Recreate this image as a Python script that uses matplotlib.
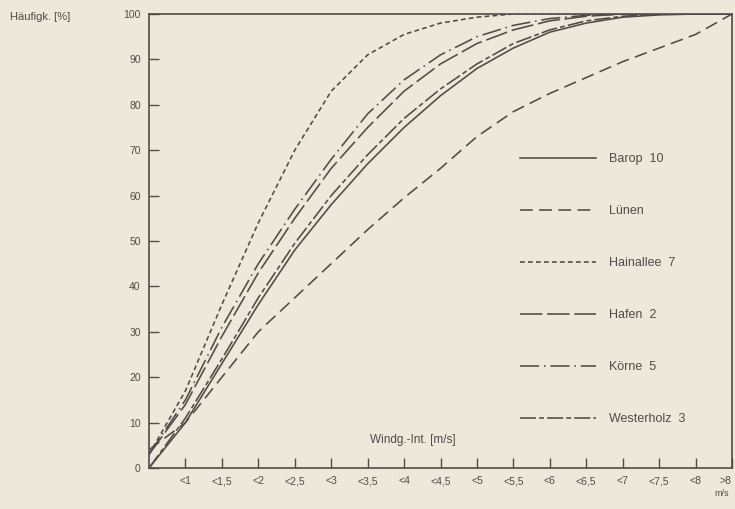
import matplotlib
matplotlib.use("Agg")
import matplotlib.pyplot as plt

plt.rcParams["font.family"] = ["Liberation Sans", "DejaVu Sans"]

# wind speed classes (category positions 1..16, position 0 = origin)
classes = ["<1", "<1,5", "<2", "<2,5", "<3", "<3,5", "<4", "<4,5", "<5",
           "<5,5", "<6", "<6,5", "<7", "<7,5", "<8", ">8"]

# cumulative frequency [%] per station (index 0 = origin)
barop = [0, 10, 23, 36, 48, 58, 67, 75, 82, 88, 92.5, 96, 98, 99.3, 99.8, 100, 100]
luenen = [4, 10, 20, 30, 37.5, 45, 52.5, 59.5, 66, 73, 78.5, 82.5, 86, 89.5, 92.5, 95.5, 100]
hainallee = [3, 17, 36, 54, 70, 83, 91, 95.5, 98, 99.3, 100, 100, 100, 100, 100, 100, 100]
hafen = [3, 14, 29, 43, 55, 66, 75, 83, 89, 93.5, 96.5, 98.5, 99.5, 100, 100, 100, 100]
koerne = [3, 15, 31, 45, 57, 68, 78, 85.5, 91, 95, 97.5, 99, 99.7, 100, 100, 100, 100]
westerholz = [0, 11, 24, 37.5, 49.5, 60, 69, 77, 83.5, 89, 93.5, 96.5, 98.5, 99.5, 100, 100, 100]

paper = "#eee8da"
ink = "#4f4b47"

fig = plt.figure(figsize=(7.35, 5.09), dpi=100, facecolor=paper)
ax = fig.add_axes([149 / 735, 1 - 468 / 509, 583 / 735, 454 / 509])
ax.set_facecolor(paper)

x = list(range(len(barop)))
lw = 1.15
ax.plot(x, barop, color=ink, lw=lw, ls="-", label="Barop  10")
ax.plot(x, luenen, color=ink, lw=lw, ls=(0, (8, 4)), label="Lünen")
ax.plot(x, hainallee, color=ink, lw=lw, ls=(0, (3, 2)), label="Hainallee  7")
ax.plot(x, hafen, color=ink, lw=lw, ls=(0, (14, 3)), label="Hafen  2")
ax.plot(x, koerne, color=ink, lw=lw, ls=(0, (12, 3, 1, 3)), label="Körne  5")
ax.plot(x, westerholz, color=ink, lw=lw, ls=(0, (10, 2, 3, 2)), label="Westerholz  3")

ax.set_xlim(0, 16)
ax.set_ylim(0, 100)
ax.set_xticks(range(1, 17))
ax.set_xticklabels(classes, fontsize=7.5, color=ink)
ax.get_xticklabels()[-1].set_horizontalalignment("right")
ax.set_yticks(range(0, 101, 10))
ax.set_yticklabels([str(v) for v in range(0, 101, 10)], fontsize=7.5, color=ink)
ax.tick_params(direction="in", length=7, width=1, color=ink, pad=6)
for s in ax.spines.values():
    s.set_color(ink)
    s.set_linewidth(1.2)

leg = ax.legend(loc="center left", bbox_to_anchor=(0.636, 0.394), frameon=False,
                fontsize=9, labelspacing=3.2, handlelength=6.1, handletextpad=1.0,
                borderaxespad=0, borderpad=0)
for t in leg.get_texts():
    t.set_color(ink)

fig.text(10 / 735, 1 - 17 / 509, "Häufigk. [%]", fontsize=8, color=ink, va="center")
fig.text(370 / 735, 1 - 440 / 509, "Windg.-Int. [m/s]", fontsize=8.5, color=ink, va="center")
fig.text(722 / 735, 1 - 493 / 509, "m/s", fontsize=6.5, color=ink, ha="center", va="center")

fig.savefig("out.png", dpi=100, facecolor=paper)
